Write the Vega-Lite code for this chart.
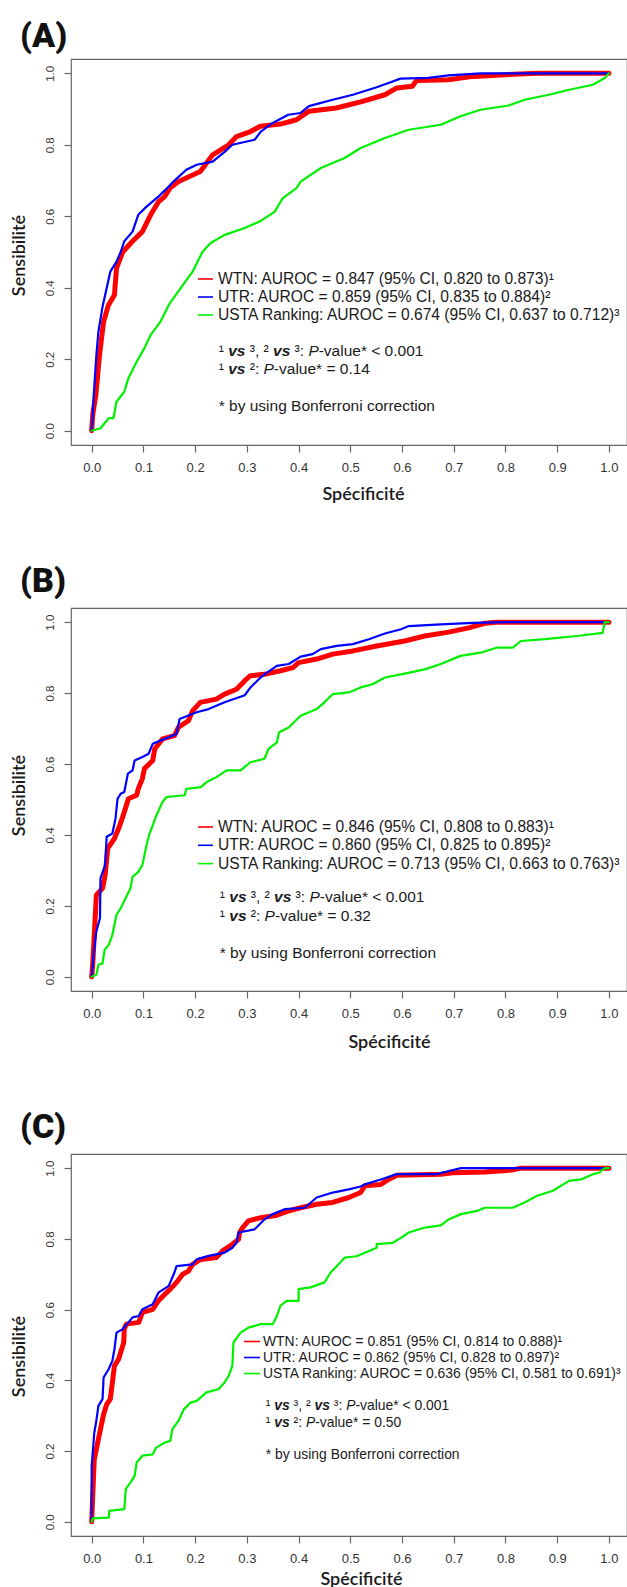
{
"$schema": "https://vega.github.io/schema/vega-lite/v6.json",
"padding": {"left": 9, "top": 18, "right": 0, "bottom": 0},
"bounds": "flush",
"spacing": 163,
"datasets": {
"roc": [
{"p":"A","s":"WTN","x":0,"y":0},{"p":"A","s":"WTN","x":0.002,"y":0.044},{"p":"A","s":"WTN","x":0.008,"y":0.1},{"p":"A","s":"WTN","x":0.015,"y":0.21},{"p":"A","s":"WTN","x":0.023,"y":0.305},{"p":"A","s":"WTN","x":0.032,"y":0.35},{"p":"A","s":"WTN","x":0.044,"y":0.38},{"p":"A","s":"WTN","x":0.048,"y":0.455},{"p":"A","s":"WTN","x":0.06,"y":0.5},{"p":"A","s":"WTN","x":0.079,"y":0.53},{"p":"A","s":"WTN","x":0.098,"y":0.557},{"p":"A","s":"WTN","x":0.114,"y":0.604},{"p":"A","s":"WTN","x":0.129,"y":0.64},{"p":"A","s":"WTN","x":0.141,"y":0.655},{"p":"A","s":"WTN","x":0.152,"y":0.68},{"p":"A","s":"WTN","x":0.168,"y":0.697},{"p":"A","s":"WTN","x":0.21,"y":0.725},{"p":"A","s":"WTN","x":0.234,"y":0.772},{"p":"A","s":"WTN","x":0.265,"y":0.8},{"p":"A","s":"WTN","x":0.28,"y":0.823},{"p":"A","s":"WTN","x":0.307,"y":0.837},{"p":"A","s":"WTN","x":0.326,"y":0.852},{"p":"A","s":"WTN","x":0.365,"y":0.858},{"p":"A","s":"WTN","x":0.396,"y":0.87},{"p":"A","s":"WTN","x":0.42,"y":0.894},{"p":"A","s":"WTN","x":0.473,"y":0.903},{"p":"A","s":"WTN","x":0.52,"y":0.92},{"p":"A","s":"WTN","x":0.567,"y":0.94},{"p":"A","s":"WTN","x":0.59,"y":0.959},{"p":"A","s":"WTN","x":0.62,"y":0.964},{"p":"A","s":"WTN","x":0.628,"y":0.98},{"p":"A","s":"WTN","x":0.69,"y":0.982},{"p":"A","s":"WTN","x":0.73,"y":0.99},{"p":"A","s":"WTN","x":0.8,"y":0.996},{"p":"A","s":"WTN","x":0.86,"y":1},{"p":"A","s":"WTN","x":1,"y":1},
{"p":"A","s":"UTR","x":0,"y":0},{"p":"A","s":"UTR","x":0.004,"y":0.1},{"p":"A","s":"UTR","x":0.009,"y":0.21},{"p":"A","s":"UTR","x":0.013,"y":0.277},{"p":"A","s":"UTR","x":0.021,"y":0.347},{"p":"A","s":"UTR","x":0.036,"y":0.445},{"p":"A","s":"UTR","x":0.048,"y":0.473},{"p":"A","s":"UTR","x":0.056,"y":0.5},{"p":"A","s":"UTR","x":0.063,"y":0.53},{"p":"A","s":"UTR","x":0.079,"y":0.557},{"p":"A","s":"UTR","x":0.09,"y":0.604},{"p":"A","s":"UTR","x":0.106,"y":0.627},{"p":"A","s":"UTR","x":0.129,"y":0.655},{"p":"A","s":"UTR","x":0.149,"y":0.683},{"p":"A","s":"UTR","x":0.158,"y":0.697},{"p":"A","s":"UTR","x":0.183,"y":0.73},{"p":"A","s":"UTR","x":0.203,"y":0.744},{"p":"A","s":"UTR","x":0.234,"y":0.753},{"p":"A","s":"UTR","x":0.257,"y":0.78},{"p":"A","s":"UTR","x":0.272,"y":0.8},{"p":"A","s":"UTR","x":0.315,"y":0.814},{"p":"A","s":"UTR","x":0.327,"y":0.837},{"p":"A","s":"UTR","x":0.35,"y":0.861},{"p":"A","s":"UTR","x":0.38,"y":0.884},{"p":"A","s":"UTR","x":0.404,"y":0.889},{"p":"A","s":"UTR","x":0.42,"y":0.908},{"p":"A","s":"UTR","x":0.466,"y":0.926},{"p":"A","s":"UTR","x":0.505,"y":0.94},{"p":"A","s":"UTR","x":0.551,"y":0.961},{"p":"A","s":"UTR","x":0.574,"y":0.973},{"p":"A","s":"UTR","x":0.597,"y":0.985},{"p":"A","s":"UTR","x":0.651,"y":0.987},{"p":"A","s":"UTR","x":0.69,"y":0.994},{"p":"A","s":"UTR","x":0.752,"y":1},{"p":"A","s":"UTR","x":1,"y":1},
{"p":"A","s":"USTA","x":0,"y":0},{"p":"A","s":"USTA","x":0.017,"y":0.007},{"p":"A","s":"USTA","x":0.033,"y":0.035},{"p":"A","s":"USTA","x":0.042,"y":0.035},{"p":"A","s":"USTA","x":0.048,"y":0.081},{"p":"A","s":"USTA","x":0.063,"y":0.109},{"p":"A","s":"USTA","x":0.071,"y":0.147},{"p":"A","s":"USTA","x":0.087,"y":0.193},{"p":"A","s":"USTA","x":0.102,"y":0.231},{"p":"A","s":"USTA","x":0.114,"y":0.268},{"p":"A","s":"USTA","x":0.133,"y":0.305},{"p":"A","s":"USTA","x":0.149,"y":0.352},{"p":"A","s":"USTA","x":0.172,"y":0.399},{"p":"A","s":"USTA","x":0.195,"y":0.445},{"p":"A","s":"USTA","x":0.214,"y":0.5},{"p":"A","s":"USTA","x":0.23,"y":0.525},{"p":"A","s":"USTA","x":0.257,"y":0.548},{"p":"A","s":"USTA","x":0.296,"y":0.567},{"p":"A","s":"USTA","x":0.327,"y":0.587},{"p":"A","s":"USTA","x":0.354,"y":0.613},{"p":"A","s":"USTA","x":0.369,"y":0.65},{"p":"A","s":"USTA","x":0.396,"y":0.679},{"p":"A","s":"USTA","x":0.404,"y":0.697},{"p":"A","s":"USTA","x":0.443,"y":0.735},{"p":"A","s":"USTA","x":0.489,"y":0.763},{"p":"A","s":"USTA","x":0.52,"y":0.791},{"p":"A","s":"USTA","x":0.567,"y":0.819},{"p":"A","s":"USTA","x":0.613,"y":0.842},{"p":"A","s":"USTA","x":0.675,"y":0.856},{"p":"A","s":"USTA","x":0.713,"y":0.88},{"p":"A","s":"USTA","x":0.752,"y":0.898},{"p":"A","s":"USTA","x":0.806,"y":0.91},{"p":"A","s":"USTA","x":0.837,"y":0.926},{"p":"A","s":"USTA","x":0.884,"y":0.94},{"p":"A","s":"USTA","x":0.923,"y":0.954},{"p":"A","s":"USTA","x":0.969,"y":0.968},{"p":"A","s":"USTA","x":0.992,"y":0.987},{"p":"A","s":"USTA","x":1,"y":1},
{"p":"B","s":"WTN","x":0,"y":0},{"p":"B","s":"WTN","x":0.002,"y":0.034},{"p":"B","s":"WTN","x":0.009,"y":0.23},{"p":"B","s":"WTN","x":0.021,"y":0.25},{"p":"B","s":"WTN","x":0.026,"y":0.287},{"p":"B","s":"WTN","x":0.031,"y":0.362},{"p":"B","s":"WTN","x":0.044,"y":0.39},{"p":"B","s":"WTN","x":0.052,"y":0.418},{"p":"B","s":"WTN","x":0.06,"y":0.451},{"p":"B","s":"WTN","x":0.065,"y":0.474},{"p":"B","s":"WTN","x":0.071,"y":0.502},{"p":"B","s":"WTN","x":0.087,"y":0.512},{"p":"B","s":"WTN","x":0.09,"y":0.53},{"p":"B","s":"WTN","x":0.098,"y":0.559},{"p":"B","s":"WTN","x":0.102,"y":0.587},{"p":"B","s":"WTN","x":0.118,"y":0.61},{"p":"B","s":"WTN","x":0.122,"y":0.643},{"p":"B","s":"WTN","x":0.137,"y":0.671},{"p":"B","s":"WTN","x":0.16,"y":0.68},{"p":"B","s":"WTN","x":0.168,"y":0.704},{"p":"B","s":"WTN","x":0.187,"y":0.722},{"p":"B","s":"WTN","x":0.195,"y":0.75},{"p":"B","s":"WTN","x":0.21,"y":0.774},{"p":"B","s":"WTN","x":0.241,"y":0.783},{"p":"B","s":"WTN","x":0.257,"y":0.797},{"p":"B","s":"WTN","x":0.28,"y":0.811},{"p":"B","s":"WTN","x":0.296,"y":0.835},{"p":"B","s":"WTN","x":0.307,"y":0.849},{"p":"B","s":"WTN","x":0.334,"y":0.853},{"p":"B","s":"WTN","x":0.365,"y":0.863},{"p":"B","s":"WTN","x":0.389,"y":0.872},{"p":"B","s":"WTN","x":0.4,"y":0.886},{"p":"B","s":"WTN","x":0.435,"y":0.896},{"p":"B","s":"WTN","x":0.466,"y":0.91},{"p":"B","s":"WTN","x":0.505,"y":0.919},{"p":"B","s":"WTN","x":0.551,"y":0.933},{"p":"B","s":"WTN","x":0.605,"y":0.947},{"p":"B","s":"WTN","x":0.644,"y":0.961},{"p":"B","s":"WTN","x":0.69,"y":0.972},{"p":"B","s":"WTN","x":0.729,"y":0.984},{"p":"B","s":"WTN","x":0.76,"y":0.997},{"p":"B","s":"WTN","x":0.783,"y":1},{"p":"B","s":"WTN","x":1,"y":1},
{"p":"B","s":"UTR","x":0,"y":0},{"p":"B","s":"UTR","x":0.005,"y":0.08},{"p":"B","s":"UTR","x":0.009,"y":0.128},{"p":"B","s":"UTR","x":0.016,"y":0.165},{"p":"B","s":"UTR","x":0.017,"y":0.278},{"p":"B","s":"UTR","x":0.026,"y":0.315},{"p":"B","s":"UTR","x":0.029,"y":0.395},{"p":"B","s":"UTR","x":0.04,"y":0.404},{"p":"B","s":"UTR","x":0.046,"y":0.446},{"p":"B","s":"UTR","x":0.05,"y":0.502},{"p":"B","s":"UTR","x":0.056,"y":0.516},{"p":"B","s":"UTR","x":0.063,"y":0.521},{"p":"B","s":"UTR","x":0.07,"y":0.573},{"p":"B","s":"UTR","x":0.079,"y":0.582},{"p":"B","s":"UTR","x":0.083,"y":0.61},{"p":"B","s":"UTR","x":0.098,"y":0.62},{"p":"B","s":"UTR","x":0.11,"y":0.629},{"p":"B","s":"UTR","x":0.118,"y":0.657},{"p":"B","s":"UTR","x":0.133,"y":0.666},{"p":"B","s":"UTR","x":0.164,"y":0.685},{"p":"B","s":"UTR","x":0.17,"y":0.727},{"p":"B","s":"UTR","x":0.203,"y":0.746},{"p":"B","s":"UTR","x":0.226,"y":0.755},{"p":"B","s":"UTR","x":0.249,"y":0.769},{"p":"B","s":"UTR","x":0.257,"y":0.774},{"p":"B","s":"UTR","x":0.296,"y":0.794},{"p":"B","s":"UTR","x":0.307,"y":0.816},{"p":"B","s":"UTR","x":0.323,"y":0.839},{"p":"B","s":"UTR","x":0.334,"y":0.853},{"p":"B","s":"UTR","x":0.358,"y":0.877},{"p":"B","s":"UTR","x":0.381,"y":0.882},{"p":"B","s":"UTR","x":0.404,"y":0.903},{"p":"B","s":"UTR","x":0.427,"y":0.91},{"p":"B","s":"UTR","x":0.443,"y":0.924},{"p":"B","s":"UTR","x":0.474,"y":0.933},{"p":"B","s":"UTR","x":0.505,"y":0.938},{"p":"B","s":"UTR","x":0.536,"y":0.952},{"p":"B","s":"UTR","x":0.567,"y":0.968},{"p":"B","s":"UTR","x":0.598,"y":0.98},{"p":"B","s":"UTR","x":0.613,"y":0.989},{"p":"B","s":"UTR","x":0.675,"y":0.994},{"p":"B","s":"UTR","x":0.737,"y":0.998},{"p":"B","s":"UTR","x":0.8,"y":1},{"p":"B","s":"UTR","x":1,"y":1},
{"p":"B","s":"USTA","x":0,"y":0},{"p":"B","s":"USTA","x":0.009,"y":0.006},{"p":"B","s":"USTA","x":0.013,"y":0.034},{"p":"B","s":"USTA","x":0.021,"y":0.038},{"p":"B","s":"USTA","x":0.025,"y":0.076},{"p":"B","s":"USTA","x":0.033,"y":0.09},{"p":"B","s":"USTA","x":0.04,"y":0.118},{"p":"B","s":"USTA","x":0.048,"y":0.175},{"p":"B","s":"USTA","x":0.056,"y":0.193},{"p":"B","s":"USTA","x":0.067,"y":0.226},{"p":"B","s":"USTA","x":0.075,"y":0.25},{"p":"B","s":"USTA","x":0.079,"y":0.282},{"p":"B","s":"USTA","x":0.09,"y":0.296},{"p":"B","s":"USTA","x":0.098,"y":0.315},{"p":"B","s":"USTA","x":0.106,"y":0.371},{"p":"B","s":"USTA","x":0.111,"y":0.4},{"p":"B","s":"USTA","x":0.118,"y":0.427},{"p":"B","s":"USTA","x":0.125,"y":0.455},{"p":"B","s":"USTA","x":0.137,"y":0.493},{"p":"B","s":"USTA","x":0.145,"y":0.507},{"p":"B","s":"USTA","x":0.18,"y":0.512},{"p":"B","s":"USTA","x":0.183,"y":0.53},{"p":"B","s":"USTA","x":0.211,"y":0.535},{"p":"B","s":"USTA","x":0.222,"y":0.549},{"p":"B","s":"USTA","x":0.241,"y":0.563},{"p":"B","s":"USTA","x":0.261,"y":0.582},{"p":"B","s":"USTA","x":0.288,"y":0.582},{"p":"B","s":"USTA","x":0.307,"y":0.605},{"p":"B","s":"USTA","x":0.334,"y":0.615},{"p":"B","s":"USTA","x":0.342,"y":0.643},{"p":"B","s":"USTA","x":0.358,"y":0.661},{"p":"B","s":"USTA","x":0.362,"y":0.689},{"p":"B","s":"USTA","x":0.381,"y":0.703},{"p":"B","s":"USTA","x":0.404,"y":0.736},{"p":"B","s":"USTA","x":0.435,"y":0.755},{"p":"B","s":"USTA","x":0.45,"y":0.774},{"p":"B","s":"USTA","x":0.466,"y":0.797},{"p":"B","s":"USTA","x":0.497,"y":0.802},{"p":"B","s":"USTA","x":0.52,"y":0.816},{"p":"B","s":"USTA","x":0.543,"y":0.825},{"p":"B","s":"USTA","x":0.567,"y":0.844},{"p":"B","s":"USTA","x":0.598,"y":0.853},{"p":"B","s":"USTA","x":0.644,"y":0.867},{"p":"B","s":"USTA","x":0.675,"y":0.882},{"p":"B","s":"USTA","x":0.713,"y":0.905},{"p":"B","s":"USTA","x":0.752,"y":0.914},{"p":"B","s":"USTA","x":0.783,"y":0.928},{"p":"B","s":"USTA","x":0.814,"y":0.928},{"p":"B","s":"USTA","x":0.83,"y":0.947},{"p":"B","s":"USTA","x":0.876,"y":0.952},{"p":"B","s":"USTA","x":0.938,"y":0.961},{"p":"B","s":"USTA","x":0.988,"y":0.97},{"p":"B","s":"USTA","x":0.992,"y":1},{"p":"B","s":"USTA","x":1,"y":1},
{"p":"C","s":"WTN","x":0,"y":0},{"p":"C","s":"WTN","x":0.002,"y":0.074},{"p":"C","s":"WTN","x":0.005,"y":0.177},{"p":"C","s":"WTN","x":0.009,"y":0.205},{"p":"C","s":"WTN","x":0.013,"y":0.234},{"p":"C","s":"WTN","x":0.017,"y":0.262},{"p":"C","s":"WTN","x":0.023,"y":0.304},{"p":"C","s":"WTN","x":0.029,"y":0.332},{"p":"C","s":"WTN","x":0.036,"y":0.347},{"p":"C","s":"WTN","x":0.04,"y":0.394},{"p":"C","s":"WTN","x":0.044,"y":0.441},{"p":"C","s":"WTN","x":0.052,"y":0.46},{"p":"C","s":"WTN","x":0.056,"y":0.479},{"p":"C","s":"WTN","x":0.062,"y":0.507},{"p":"C","s":"WTN","x":0.063,"y":0.545},{"p":"C","s":"WTN","x":0.067,"y":0.559},{"p":"C","s":"WTN","x":0.091,"y":0.564},{"p":"C","s":"WTN","x":0.098,"y":0.592},{"p":"C","s":"WTN","x":0.118,"y":0.601},{"p":"C","s":"WTN","x":0.129,"y":0.625},{"p":"C","s":"WTN","x":0.141,"y":0.643},{"p":"C","s":"WTN","x":0.152,"y":0.658},{"p":"C","s":"WTN","x":0.164,"y":0.677},{"p":"C","s":"WTN","x":0.176,"y":0.7},{"p":"C","s":"WTN","x":0.187,"y":0.709},{"p":"C","s":"WTN","x":0.195,"y":0.728},{"p":"C","s":"WTN","x":0.211,"y":0.742},{"p":"C","s":"WTN","x":0.241,"y":0.747},{"p":"C","s":"WTN","x":0.253,"y":0.766},{"p":"C","s":"WTN","x":0.272,"y":0.785},{"p":"C","s":"WTN","x":0.284,"y":0.799},{"p":"C","s":"WTN","x":0.286,"y":0.818},{"p":"C","s":"WTN","x":0.292,"y":0.832},{"p":"C","s":"WTN","x":0.303,"y":0.851},{"p":"C","s":"WTN","x":0.327,"y":0.86},{"p":"C","s":"WTN","x":0.358,"y":0.867},{"p":"C","s":"WTN","x":0.381,"y":0.879},{"p":"C","s":"WTN","x":0.404,"y":0.888},{"p":"C","s":"WTN","x":0.435,"y":0.898},{"p":"C","s":"WTN","x":0.466,"y":0.903},{"p":"C","s":"WTN","x":0.497,"y":0.917},{"p":"C","s":"WTN","x":0.52,"y":0.931},{"p":"C","s":"WTN","x":0.528,"y":0.95},{"p":"C","s":"WTN","x":0.559,"y":0.954},{"p":"C","s":"WTN","x":0.574,"y":0.968},{"p":"C","s":"WTN","x":0.59,"y":0.98},{"p":"C","s":"WTN","x":0.675,"y":0.983},{"p":"C","s":"WTN","x":0.698,"y":0.987},{"p":"C","s":"WTN","x":0.76,"y":0.989},{"p":"C","s":"WTN","x":0.814,"y":0.995},{"p":"C","s":"WTN","x":0.83,"y":1},{"p":"C","s":"WTN","x":1,"y":1},
{"p":"C","s":"UTR","x":0,"y":0},{"p":"C","s":"UTR","x":0,"y":0.158},{"p":"C","s":"UTR","x":0.005,"y":0.252},{"p":"C","s":"UTR","x":0.009,"y":0.286},{"p":"C","s":"UTR","x":0.013,"y":0.328},{"p":"C","s":"UTR","x":0.021,"y":0.347},{"p":"C","s":"UTR","x":0.023,"y":0.408},{"p":"C","s":"UTR","x":0.033,"y":0.432},{"p":"C","s":"UTR","x":0.04,"y":0.455},{"p":"C","s":"UTR","x":0.044,"y":0.488},{"p":"C","s":"UTR","x":0.048,"y":0.535},{"p":"C","s":"UTR","x":0.06,"y":0.545},{"p":"C","s":"UTR","x":0.071,"y":0.564},{"p":"C","s":"UTR","x":0.079,"y":0.578},{"p":"C","s":"UTR","x":0.091,"y":0.582},{"p":"C","s":"UTR","x":0.098,"y":0.601},{"p":"C","s":"UTR","x":0.118,"y":0.615},{"p":"C","s":"UTR","x":0.129,"y":0.648},{"p":"C","s":"UTR","x":0.149,"y":0.667},{"p":"C","s":"UTR","x":0.16,"y":0.705},{"p":"C","s":"UTR","x":0.164,"y":0.723},{"p":"C","s":"UTR","x":0.195,"y":0.728},{"p":"C","s":"UTR","x":0.203,"y":0.742},{"p":"C","s":"UTR","x":0.226,"y":0.752},{"p":"C","s":"UTR","x":0.257,"y":0.761},{"p":"C","s":"UTR","x":0.272,"y":0.775},{"p":"C","s":"UTR","x":0.28,"y":0.789},{"p":"C","s":"UTR","x":0.284,"y":0.818},{"p":"C","s":"UTR","x":0.315,"y":0.827},{"p":"C","s":"UTR","x":0.334,"y":0.855},{"p":"C","s":"UTR","x":0.35,"y":0.87},{"p":"C","s":"UTR","x":0.373,"y":0.884},{"p":"C","s":"UTR","x":0.412,"y":0.888},{"p":"C","s":"UTR","x":0.435,"y":0.917},{"p":"C","s":"UTR","x":0.466,"y":0.931},{"p":"C","s":"UTR","x":0.497,"y":0.94},{"p":"C","s":"UTR","x":0.52,"y":0.948},{"p":"C","s":"UTR","x":0.528,"y":0.954},{"p":"C","s":"UTR","x":0.559,"y":0.968},{"p":"C","s":"UTR","x":0.59,"y":0.983},{"p":"C","s":"UTR","x":0.667,"y":0.983},{"p":"C","s":"UTR","x":0.683,"y":0.989},{"p":"C","s":"UTR","x":0.714,"y":1},{"p":"C","s":"UTR","x":1,"y":1},
{"p":"C","s":"USTA","x":0,"y":0},{"p":"C","s":"USTA","x":0.002,"y":0.01},{"p":"C","s":"USTA","x":0.033,"y":0.012},{"p":"C","s":"USTA","x":0.034,"y":0.031},{"p":"C","s":"USTA","x":0.063,"y":0.036},{"p":"C","s":"USTA","x":0.066,"y":0.093},{"p":"C","s":"USTA","x":0.075,"y":0.111},{"p":"C","s":"USTA","x":0.083,"y":0.13},{"p":"C","s":"USTA","x":0.087,"y":0.168},{"p":"C","s":"USTA","x":0.098,"y":0.187},{"p":"C","s":"USTA","x":0.118,"y":0.191},{"p":"C","s":"USTA","x":0.125,"y":0.21},{"p":"C","s":"USTA","x":0.141,"y":0.224},{"p":"C","s":"USTA","x":0.152,"y":0.229},{"p":"C","s":"USTA","x":0.156,"y":0.262},{"p":"C","s":"USTA","x":0.168,"y":0.286},{"p":"C","s":"USTA","x":0.178,"y":0.318},{"p":"C","s":"USTA","x":0.191,"y":0.337},{"p":"C","s":"USTA","x":0.203,"y":0.342},{"p":"C","s":"USTA","x":0.222,"y":0.366},{"p":"C","s":"USTA","x":0.245,"y":0.375},{"p":"C","s":"USTA","x":0.257,"y":0.394},{"p":"C","s":"USTA","x":0.265,"y":0.413},{"p":"C","s":"USTA","x":0.272,"y":0.441},{"p":"C","s":"USTA","x":0.274,"y":0.507},{"p":"C","s":"USTA","x":0.288,"y":0.535},{"p":"C","s":"USTA","x":0.303,"y":0.549},{"p":"C","s":"USTA","x":0.327,"y":0.559},{"p":"C","s":"USTA","x":0.35,"y":0.559},{"p":"C","s":"USTA","x":0.358,"y":0.582},{"p":"C","s":"USTA","x":0.365,"y":0.611},{"p":"C","s":"USTA","x":0.377,"y":0.625},{"p":"C","s":"USTA","x":0.4,"y":0.625},{"p":"C","s":"USTA","x":0.4,"y":0.658},{"p":"C","s":"USTA","x":0.423,"y":0.663},{"p":"C","s":"USTA","x":0.45,"y":0.677},{"p":"C","s":"USTA","x":0.462,"y":0.705},{"p":"C","s":"USTA","x":0.474,"y":0.723},{"p":"C","s":"USTA","x":0.489,"y":0.747},{"p":"C","s":"USTA","x":0.512,"y":0.751},{"p":"C","s":"USTA","x":0.528,"y":0.761},{"p":"C","s":"USTA","x":0.551,"y":0.775},{"p":"C","s":"USTA","x":0.551,"y":0.785},{"p":"C","s":"USTA","x":0.582,"y":0.789},{"p":"C","s":"USTA","x":0.598,"y":0.803},{"p":"C","s":"USTA","x":0.613,"y":0.818},{"p":"C","s":"USTA","x":0.644,"y":0.832},{"p":"C","s":"USTA","x":0.675,"y":0.838},{"p":"C","s":"USTA","x":0.69,"y":0.855},{"p":"C","s":"USTA","x":0.714,"y":0.87},{"p":"C","s":"USTA","x":0.745,"y":0.879},{"p":"C","s":"USTA","x":0.76,"y":0.888},{"p":"C","s":"USTA","x":0.814,"y":0.888},{"p":"C","s":"USTA","x":0.837,"y":0.903},{"p":"C","s":"USTA","x":0.861,"y":0.922},{"p":"C","s":"USTA","x":0.892,"y":0.936},{"p":"C","s":"USTA","x":0.907,"y":0.95},{"p":"C","s":"USTA","x":0.923,"y":0.964},{"p":"C","s":"USTA","x":0.946,"y":0.968},{"p":"C","s":"USTA","x":0.969,"y":0.983},{"p":"C","s":"USTA","x":0.981,"y":0.987},{"p":"C","s":"USTA","x":0.992,"y":1},{"p":"C","s":"USTA","x":1,"y":1}
]
},
"resolve": {"scale": {"color": "independent", "x": "independent", "y": "independent"}, "legend": {"color": "independent"}},
"vconcat": [
{
"width": 556, "height": 386,
"title": {"text": "(A)", "offset": 5.5, "dx": -51},
"layer": [
{"data": {"name": "roc"}, "transform": [{"filter": "datum.p == 'A'"}],
 "mark": {"type": "line", "strokeCap": "round", "strokeJoin": "round"},
 "encoding": {
  "x": {"field": "x", "type": "quantitative", "scale": {"domain": [-0.04, 1.035], "nice": false, "zero": false}, "axis": {"values": [0,0.1,0.2,0.3,0.4,0.5,0.6,0.7,0.8,0.9,1], "format": ".1f", "title": "Spécificité", "titleX": 292, "titleY": 49}},
  "y": {"field": "y", "type": "quantitative", "scale": {"domain": [-0.04, 1.04], "nice": false, "zero": false}, "axis": {"values": [0,0.1,0.2,0.3,0.4,0.5,0.6,0.7,0.8,0.9,1], "format": ".1f", "title": "Sensibilité", "titleX": -52, "titleY": 196}},
  "color": {"field": "s", "type": "nominal", "scale": {"domain": ["WTN","UTR","USTA"], "range": ["#ff0000","#0000ff","#00f000"]},
   "legend": {"orient": "none", "legendX": 126, "legendY": 211.5, "title": null, "symbolType": "stroke", "symbolSize": 225, "symbolStrokeWidth": 1.6, "labelFontSize": 15.6, "labelOffset": 4, "rowPadding": 0, "padding": 0, "labelLimit": 600,
   "labelExpr": "datum.value == 'WTN' ? 'WTN: AUROC = 0.847 (95% CI, 0.820 to 0.873)¹' : datum.value == 'UTR' ? 'UTR: AUROC = 0.859 (95% CI, 0.835 to 0.884)²' : 'USTA Ranking: AUROC = 0.674 (95% CI, 0.637 to 0.712)³'"}},
  "strokeWidth": {"condition": {"test": "datum.s == 'WTN'", "value": 5}, "value": 2.2}
 }},
{"data": {"values": [{}]}, "mark": {"type": "text", "text": "¹"}, "encoding": {"x": {"datum": 0.2456, "type": "quantitative"}, "y": {"datum": 0.2225, "type": "quantitative"}}},
{"data": {"values": [{}]}, "mark": {"type": "text", "text": "vs", "fontStyle": "italic", "fontWeight": "bold"}, "encoding": {"x": {"datum": 0.264, "type": "quantitative"}, "y": {"datum": 0.2225, "type": "quantitative"}}},
{"data": {"values": [{}]}, "mark": {"type": "text", "text": "³, ²"}, "encoding": {"x": {"datum": 0.3056, "type": "quantitative"}, "y": {"datum": 0.2225, "type": "quantitative"}}},
{"data": {"values": [{}]}, "mark": {"type": "text", "text": "vs", "fontStyle": "italic", "fontWeight": "bold"}, "encoding": {"x": {"datum": 0.3507, "type": "quantitative"}, "y": {"datum": 0.2225, "type": "quantitative"}}},
{"data": {"values": [{}]}, "mark": {"type": "text", "text": "³:"}, "encoding": {"x": {"datum": 0.3923, "type": "quantitative"}, "y": {"datum": 0.2225, "type": "quantitative"}}},
{"data": {"values": [{}]}, "mark": {"type": "text", "text": "P", "fontStyle": "italic"}, "encoding": {"x": {"datum": 0.419, "type": "quantitative"}, "y": {"datum": 0.2225, "type": "quantitative"}}},
{"data": {"values": [{}]}, "mark": {"type": "text", "text": "-value* < 0.001"}, "encoding": {"x": {"datum": 0.4389, "type": "quantitative"}, "y": {"datum": 0.2225, "type": "quantitative"}}},
{"data": {"values": [{}]}, "mark": {"type": "text", "text": "¹"}, "encoding": {"x": {"datum": 0.2456, "type": "quantitative"}, "y": {"datum": 0.172, "type": "quantitative"}}},
{"data": {"values": [{}]}, "mark": {"type": "text", "text": "vs", "fontStyle": "italic", "fontWeight": "bold"}, "encoding": {"x": {"datum": 0.264, "type": "quantitative"}, "y": {"datum": 0.172, "type": "quantitative"}}},
{"data": {"values": [{}]}, "mark": {"type": "text", "text": "²:"}, "encoding": {"x": {"datum": 0.3056, "type": "quantitative"}, "y": {"datum": 0.172, "type": "quantitative"}}},
{"data": {"values": [{}]}, "mark": {"type": "text", "text": "P", "fontStyle": "italic"}, "encoding": {"x": {"datum": 0.3323, "type": "quantitative"}, "y": {"datum": 0.172, "type": "quantitative"}}},
{"data": {"values": [{}]}, "mark": {"type": "text", "text": "-value* = 0.14"}, "encoding": {"x": {"datum": 0.3522, "type": "quantitative"}, "y": {"datum": 0.172, "type": "quantitative"}}},
{"data": {"values": [{}]}, "mark": {"type": "text", "text": "* by using Bonferroni correction"}, "encoding": {"x": {"datum": 0.2456, "type": "quantitative"}, "y": {"datum": 0.0684, "type": "quantitative"}}}
]
},
{
"width": 556, "height": 383,
"title": {"text": "(B)", "offset": 9.5, "dx": -51},
"layer": [
{"data": {"name": "roc"}, "transform": [{"filter": "datum.p == 'B'"}],
 "mark": {"type": "line", "strokeCap": "round", "strokeJoin": "round"},
 "encoding": {
  "x": {"field": "x", "type": "quantitative", "scale": {"domain": [-0.04, 1.035], "nice": false, "zero": false}, "axis": {"values": [0,0.1,0.2,0.3,0.4,0.5,0.6,0.7,0.8,0.9,1], "format": ".1f", "title": "Spécificité", "titleX": 318, "titleY": 51}},
  "y": {"field": "y", "type": "quantitative", "scale": {"domain": [-0.04, 1.04], "nice": false, "zero": false}, "axis": {"values": [0,0.1,0.2,0.3,0.4,0.5,0.6,0.7,0.8,0.9,1], "format": ".1f", "title": "Sensibilité", "titleX": -52, "titleY": 187}},
  "color": {"field": "s", "type": "nominal", "scale": {"domain": ["WTN","UTR","USTA"], "range": ["#ff0000","#0000ff","#00f000"]},
   "legend": {"orient": "none", "legendX": 126, "legendY": 210.5, "title": null, "symbolType": "stroke", "symbolSize": 225, "symbolStrokeWidth": 1.6, "labelFontSize": 15.6, "labelOffset": 4, "rowPadding": 0.3, "padding": 0, "labelLimit": 600,
   "labelExpr": "datum.value == 'WTN' ? 'WTN: AUROC = 0.846 (95% CI, 0.808 to 0.883)¹' : datum.value == 'UTR' ? 'UTR: AUROC = 0.860 (95% CI, 0.825 to 0.895)²' : 'USTA Ranking: AUROC = 0.713 (95% CI, 0.663 to 0.763)³'"}},
  "strokeWidth": {"condition": {"test": "datum.s == 'WTN'", "value": 5}, "value": 2.2}
 }},
{"data": {"values": [{}]}, "mark": {"type": "text", "text": "¹"}, "encoding": {"x": {"datum": 0.2476, "type": "quantitative"}, "y": {"datum": 0.2245, "type": "quantitative"}}},
{"data": {"values": [{}]}, "mark": {"type": "text", "text": "vs", "fontStyle": "italic", "fontWeight": "bold"}, "encoding": {"x": {"datum": 0.266, "type": "quantitative"}, "y": {"datum": 0.2245, "type": "quantitative"}}},
{"data": {"values": [{}]}, "mark": {"type": "text", "text": "³, ²"}, "encoding": {"x": {"datum": 0.3076, "type": "quantitative"}, "y": {"datum": 0.2245, "type": "quantitative"}}},
{"data": {"values": [{}]}, "mark": {"type": "text", "text": "vs", "fontStyle": "italic", "fontWeight": "bold"}, "encoding": {"x": {"datum": 0.3527, "type": "quantitative"}, "y": {"datum": 0.2245, "type": "quantitative"}}},
{"data": {"values": [{}]}, "mark": {"type": "text", "text": "³:"}, "encoding": {"x": {"datum": 0.3943, "type": "quantitative"}, "y": {"datum": 0.2245, "type": "quantitative"}}},
{"data": {"values": [{}]}, "mark": {"type": "text", "text": "P", "fontStyle": "italic"}, "encoding": {"x": {"datum": 0.421, "type": "quantitative"}, "y": {"datum": 0.2245, "type": "quantitative"}}},
{"data": {"values": [{}]}, "mark": {"type": "text", "text": "-value* < 0.001"}, "encoding": {"x": {"datum": 0.4409, "type": "quantitative"}, "y": {"datum": 0.2245, "type": "quantitative"}}},
{"data": {"values": [{}]}, "mark": {"type": "text", "text": "¹"}, "encoding": {"x": {"datum": 0.2476, "type": "quantitative"}, "y": {"datum": 0.171, "type": "quantitative"}}},
{"data": {"values": [{}]}, "mark": {"type": "text", "text": "vs", "fontStyle": "italic", "fontWeight": "bold"}, "encoding": {"x": {"datum": 0.266, "type": "quantitative"}, "y": {"datum": 0.171, "type": "quantitative"}}},
{"data": {"values": [{}]}, "mark": {"type": "text", "text": "²:"}, "encoding": {"x": {"datum": 0.3076, "type": "quantitative"}, "y": {"datum": 0.171, "type": "quantitative"}}},
{"data": {"values": [{}]}, "mark": {"type": "text", "text": "P", "fontStyle": "italic"}, "encoding": {"x": {"datum": 0.3343, "type": "quantitative"}, "y": {"datum": 0.171, "type": "quantitative"}}},
{"data": {"values": [{}]}, "mark": {"type": "text", "text": "-value* = 0.32"}, "encoding": {"x": {"datum": 0.3542, "type": "quantitative"}, "y": {"datum": 0.171, "type": "quantitative"}}},
{"data": {"values": [{}]}, "mark": {"type": "text", "text": "* by using Bonferroni correction"}, "encoding": {"x": {"datum": 0.2476, "type": "quantitative"}, "y": {"datum": 0.0672, "type": "quantitative"}}}
]
},
{
"width": 556, "height": 382,
"title": {"text": "(C)", "offset": 9.5, "dx": -51},
"layer": [
{"data": {"name": "roc"}, "transform": [{"filter": "datum.p == 'C'"}],
 "mark": {"type": "line", "strokeCap": "round", "strokeJoin": "round"},
 "encoding": {
  "x": {"field": "x", "type": "quantitative", "scale": {"domain": [-0.04, 1.035], "nice": false, "zero": false}, "axis": {"values": [0,0.1,0.2,0.3,0.4,0.5,0.6,0.7,0.8,0.9,1], "format": ".1f", "title": "Spécificité", "titleX": 290, "titleY": 43}},
  "y": {"field": "y", "type": "quantitative", "scale": {"domain": [-0.04, 1.04], "nice": false, "zero": false}, "axis": {"values": [0,0.1,0.2,0.3,0.4,0.5,0.6,0.7,0.8,0.9,1], "format": ".1f", "title": "Sensibilité", "titleX": -52, "titleY": 202}},
  "color": {"field": "s", "type": "nominal", "scale": {"domain": ["WTN","UTR","USTA"], "range": ["#ff0000","#0000ff","#00f000"]},
   "legend": {"orient": "none", "legendX": 172, "legendY": 178.5, "title": null, "symbolType": "stroke", "symbolSize": 256, "symbolStrokeWidth": 1.6, "labelFontSize": 13.9, "labelOffset": 2, "rowPadding": 0, "padding": 0, "labelLimit": 600,
   "labelExpr": "datum.value == 'WTN' ? 'WTN: AUROC = 0.851 (95% CI, 0.814 to 0.888)¹' : datum.value == 'UTR' ? 'UTR: AUROC = 0.862 (95% CI, 0.828 to 0.897)²' : 'USTA Ranking: AUROC = 0.636 (95% CI, 0.581 to 0.691)³'"}},
  "strokeWidth": {"condition": {"test": "datum.s == 'WTN'", "value": 5}, "value": 2.2}
 }},
{"data": {"values": [{}]}, "mark": {"type": "text", "text": "¹", "fontSize": 13.9}, "encoding": {"x": {"datum": 0.3366, "type": "quantitative"}, "y": {"datum": 0.3274, "type": "quantitative"}}},
{"data": {"values": [{}]}, "mark": {"type": "text", "text": "vs", "fontSize": 13.9, "fontStyle": "italic", "fontWeight": "bold"}, "encoding": {"x": {"datum": 0.353, "type": "quantitative"}, "y": {"datum": 0.3274, "type": "quantitative"}}},
{"data": {"values": [{}]}, "mark": {"type": "text", "text": "³, ²", "fontSize": 13.9}, "encoding": {"x": {"datum": 0.3903, "type": "quantitative"}, "y": {"datum": 0.3274, "type": "quantitative"}}},
{"data": {"values": [{}]}, "mark": {"type": "text", "text": "vs", "fontSize": 13.9, "fontStyle": "italic", "fontWeight": "bold"}, "encoding": {"x": {"datum": 0.4308, "type": "quantitative"}, "y": {"datum": 0.3274, "type": "quantitative"}}},
{"data": {"values": [{}]}, "mark": {"type": "text", "text": "³:", "fontSize": 13.9}, "encoding": {"x": {"datum": 0.4681, "type": "quantitative"}, "y": {"datum": 0.3274, "type": "quantitative"}}},
{"data": {"values": [{}]}, "mark": {"type": "text", "text": "P", "fontSize": 13.9, "fontStyle": "italic"}, "encoding": {"x": {"datum": 0.4921, "type": "quantitative"}, "y": {"datum": 0.3274, "type": "quantitative"}}},
{"data": {"values": [{}]}, "mark": {"type": "text", "text": "-value* < 0.001", "fontSize": 13.9}, "encoding": {"x": {"datum": 0.5099, "type": "quantitative"}, "y": {"datum": 0.3274, "type": "quantitative"}}},
{"data": {"values": [{}]}, "mark": {"type": "text", "text": "¹", "fontSize": 13.9}, "encoding": {"x": {"datum": 0.3366, "type": "quantitative"}, "y": {"datum": 0.2794, "type": "quantitative"}}},
{"data": {"values": [{}]}, "mark": {"type": "text", "text": "vs", "fontSize": 13.9, "fontStyle": "italic", "fontWeight": "bold"}, "encoding": {"x": {"datum": 0.353, "type": "quantitative"}, "y": {"datum": 0.2794, "type": "quantitative"}}},
{"data": {"values": [{}]}, "mark": {"type": "text", "text": "²:", "fontSize": 13.9}, "encoding": {"x": {"datum": 0.3903, "type": "quantitative"}, "y": {"datum": 0.2794, "type": "quantitative"}}},
{"data": {"values": [{}]}, "mark": {"type": "text", "text": "P", "fontSize": 13.9, "fontStyle": "italic"}, "encoding": {"x": {"datum": 0.4143, "type": "quantitative"}, "y": {"datum": 0.2794, "type": "quantitative"}}},
{"data": {"values": [{}]}, "mark": {"type": "text", "text": "-value* = 0.50", "fontSize": 13.9}, "encoding": {"x": {"datum": 0.4321, "type": "quantitative"}, "y": {"datum": 0.2794, "type": "quantitative"}}},
{"data": {"values": [{}]}, "mark": {"type": "text", "text": "* by using Bonferroni correction", "fontSize": 13.9}, "encoding": {"x": {"datum": 0.3366, "type": "quantitative"}, "y": {"datum": 0.189, "type": "quantitative"}}}
]
}
],
"config": {
 "view": {"stroke": "#666", "strokeWidth": 1.2},
 "axis": {"grid": false, "domain": false, "tickColor": "#666", "tickSize": 7, "tickWidth": 1.2, "labelFont": "Liberation Sans", "labelColor": "#333", "titleFont": "Lato", "titleFontSize": 18, "titleFontWeight": 600, "titleColor": "#1a1a1a"},
 "axisX": {"labelFontSize": 13, "labelPadding": 9, "labelAngle": 0, "titleAlign": "center", "titleBaseline": "middle"},
 "axisY": {"labelFontSize": 11.5, "labelPadding": 8.5, "labelAngle": 270, "labelAlign": "center", "labelBaseline": "bottom", "titleAngle": 270, "titleAlign": "center", "titleBaseline": "middle"},
 "title": {"font": "Roboto", "fontSize": 34, "fontWeight": 900, "anchor": "start", "frame": "group", "baseline": "middle", "color": "#111"},
 "legend": {"labelFont": "Liberation Sans", "labelColor": "#1a1a1a"},
 "text": {"font": "Liberation Sans", "fontSize": 15.5, "align": "left", "baseline": "middle", "color": "#1a1a1a"}
}
}
